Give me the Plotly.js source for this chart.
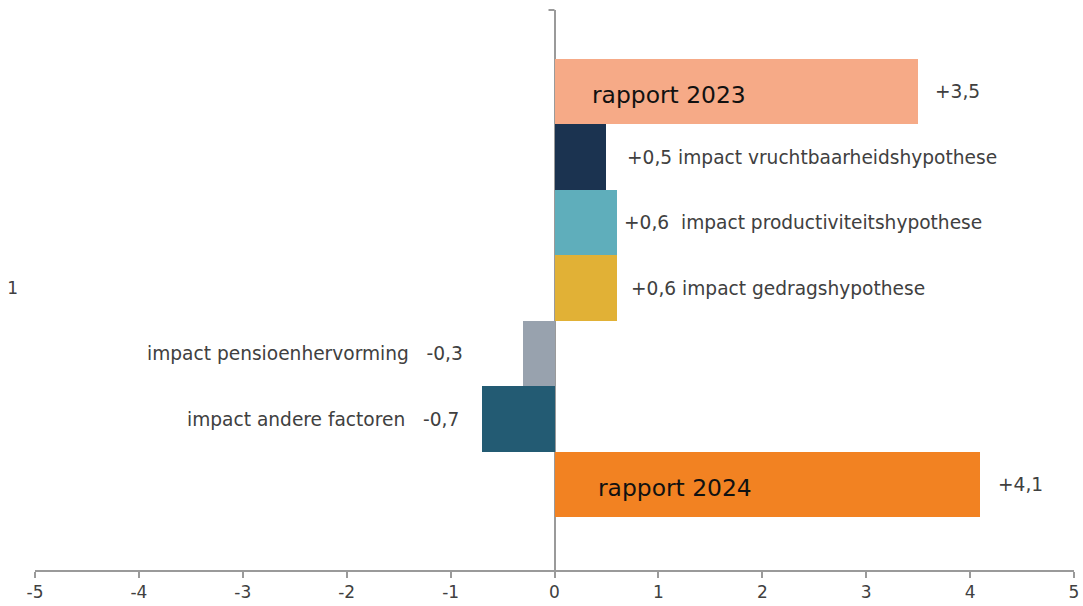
<!DOCTYPE html>
<html>
<head>
<meta charset="utf-8">
<script src="https://cdn.plot.ly/plotly-3.0.1.min.js"></script>
<style>
  html, body { margin: 0; padding: 0; background: #ffffff; }
  #chart { width: 1083px; height: 606px; }
</style>
</head>
<body>
<div id="chart"></div>
<script>
// Bridge from the 2023 report to the 2024 report, one category with seven bars.
const category = '1';
const seriesNames = [
  'rapport 2024',
  'impact andere factoren',
  'impact pensioenhervorming',
  'impact gedragshypothese',
  'impact productiviteitshypothese',
  'impact vruchtbaarheidshypothese',
  'rapport 2023'
];
const seriesValues = [4.1, -0.7, -0.3, 0.6, 0.6, 0.5, 3.5];
const isTotal = [true, false, false, false, false, false, true];
const xTicks = [-5, -4, -3, -2, -1, 0, 1, 2, 3, 4, 5];

// Styling per bar
const barColors = ['#F28222', '#235B73', '#98A2AE', '#E1B136', '#5FAEBB', '#1B3350', '#F6AA87'];
const labelGap = ['\u00a0', '\u00a0\u00a0\u00a0', '\u00a0\u00a0\u00a0', '\u00a0', '\u00a0\u00a0', '\u00a0', '\u00a0'];
const labelShift = [16, -21, -58, 12, 5, 19, 15];
const nameShift = [41, 0, 0, 0, 0, 0, 35];

const fmt = v => (v > 0 ? '+' : '-') + Math.abs(v).toFixed(1).replace('.', ',');
const positions = seriesValues.map((v, i) => i);
const mid = (seriesValues.length - 1) / 2;

const trace = {
  type: 'bar',
  orientation: 'h',
  x: seriesValues,
  y: positions,
  width: 1,
  marker: { color: barColors, line: { width: 0 } },
  hoverinfo: 'x',
  showlegend: false
};

const fontFamily = 'DejaVu Sans, Verdana, sans-serif';
const textFont = { family: fontFamily, size: 18.6, color: '#404040' };
const annotations = [];
seriesValues.forEach((v, i) => {
  if (isTotal[i]) {
    annotations.push({
      x: 0, y: positions[i], xref: 'x', yref: 'y',
      text: seriesNames[i], showarrow: false,
      xanchor: 'left', yanchor: 'middle', xshift: nameShift[i], yshift: -3,
      font: { family: fontFamily, size: 23.4, color: '#111111' }
    });
    annotations.push({
      x: v, y: positions[i], xref: 'x', yref: 'y',
      text: fmt(v), showarrow: false,
      xanchor: 'left', yanchor: 'middle', xshift: labelShift[i],
      font: textFont
    });
  } else if (v > 0) {
    annotations.push({
      x: v, y: positions[i], xref: 'x', yref: 'y',
      text: fmt(v) + labelGap[i] + seriesNames[i], showarrow: false,
      xanchor: 'left', yanchor: 'middle', xshift: labelShift[i],
      font: textFont
    });
  } else {
    annotations.push({
      x: v, y: positions[i], xref: 'x', yref: 'y',
      text: seriesNames[i] + labelGap[i] + fmt(v), showarrow: false,
      xanchor: 'right', yanchor: 'middle', xshift: labelShift[i],
      font: textFont
    });
  }
});

const layout = {
  width: 1083,
  height: 606,
  margin: { l: 35, r: 9, t: 10, b: 36 },
  paper_bgcolor: '#ffffff',
  plot_bgcolor: '#ffffff',
  bargap: 0,
  xaxis: {
    range: [-5, 5],
    tickvals: xTicks,
    ticktext: xTicks.map(String),
    ticks: 'outside',
    ticklen: 6,
    tickwidth: 2,
    tickcolor: '#9A9A9A',
    showline: true,
    linecolor: '#9A9A9A',
    linewidth: 2,
    showgrid: false,
    zeroline: true,
    zerolinecolor: '#9A9A9A',
    zerolinewidth: 2,
    tickfont: { family: fontFamily, size: 17, color: '#404040' },
    fixedrange: true
  },
  yaxis: {
    range: [mid - 4.305, mid + 4.245],
    tickvals: [mid],
    ticktext: [category],
    ticks: '',
    showline: false,
    showgrid: false,
    zeroline: false,
    ticklabelstandoff: 16,
    tickfont: { family: fontFamily, size: 17, color: '#404040' },
    fixedrange: true
  },
  shapes: [{
    type: 'line', xref: 'x', yref: 'paper',
    xsizemode: 'pixel', xanchor: 0, x0: -6, x1: 0, y0: 1, y1: 1,
    line: { color: '#9A9A9A', width: 2 }
  }],
  annotations: annotations
};

Plotly.newPlot('chart', [trace], layout, { displayModeBar: false, staticPlot: true });
</script>
</body>
</html>
